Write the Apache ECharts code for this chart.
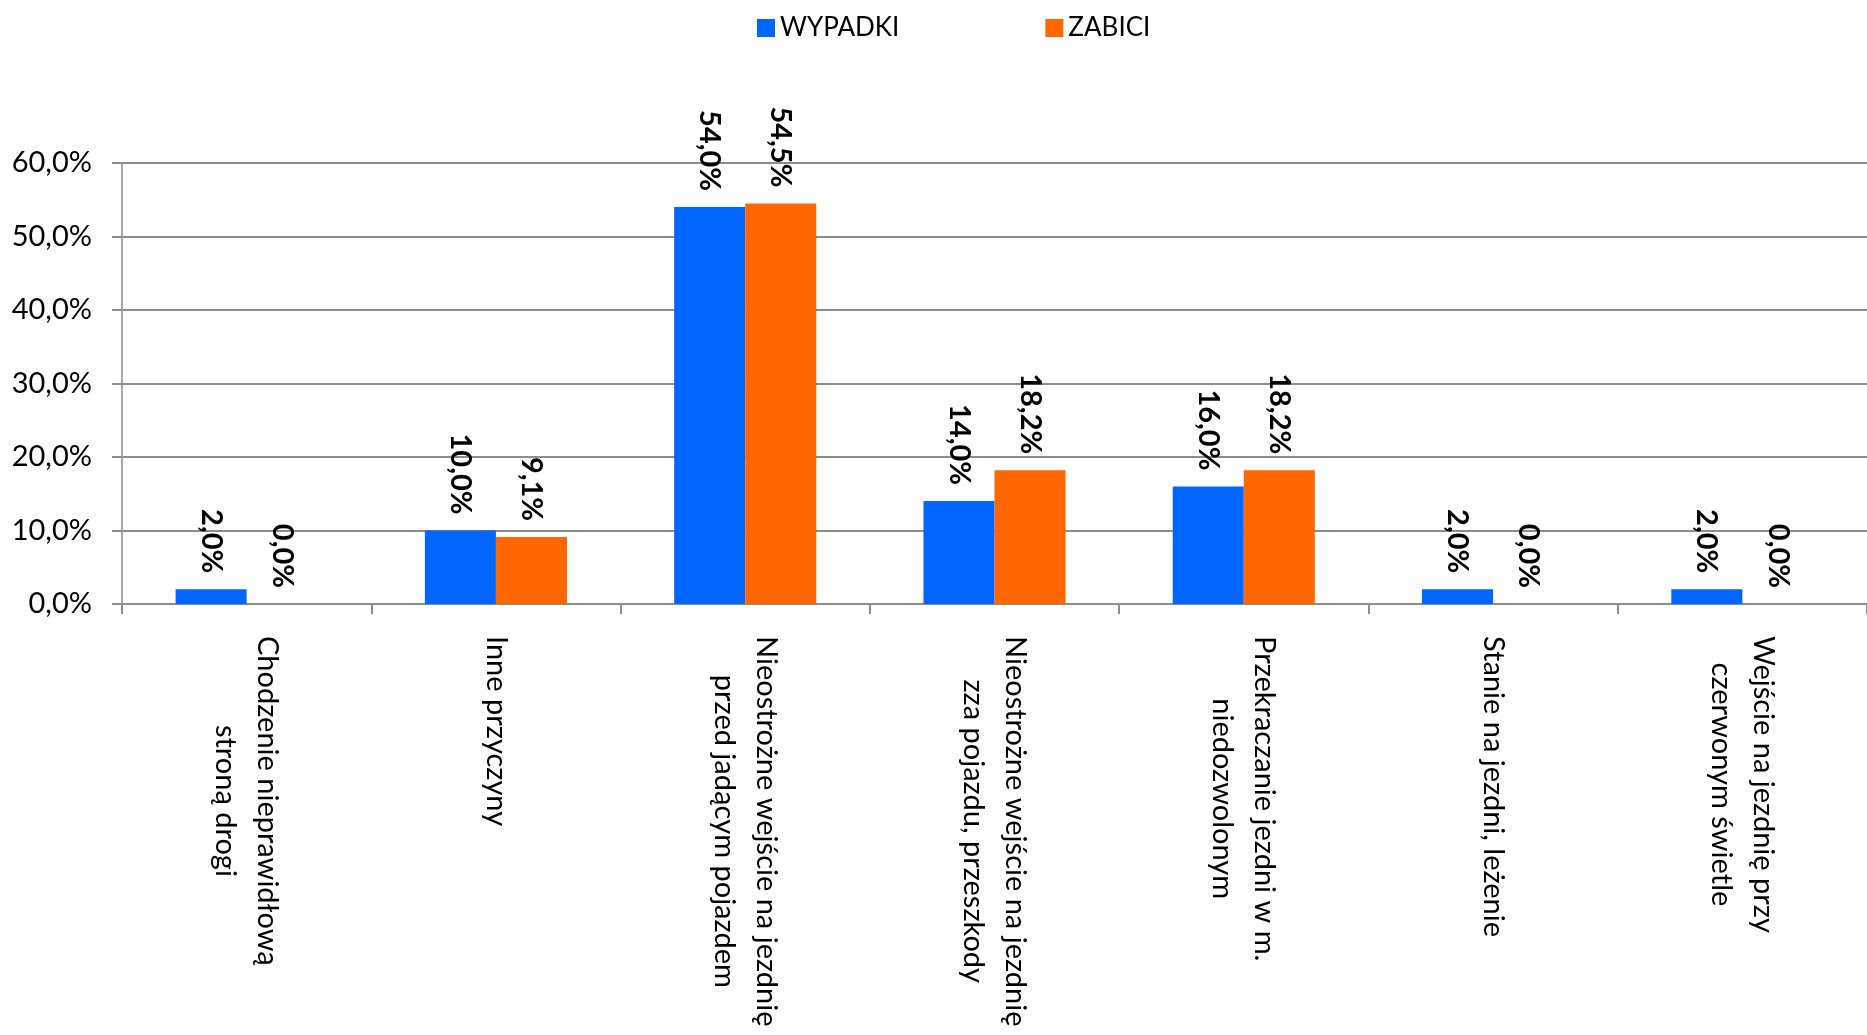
<!DOCTYPE html>
<html>
<head>
<meta charset="utf-8">
<script src="https://cdn.jsdelivr.net/npm/echarts@6/dist/echarts.min.js"></script>
<style>
  html, body { margin: 0; padding: 0; background: #fff; }
  #chart { width: 1867px; height: 1035px; }
</style>
</head>
<body>
<div id="chart"></div>
<script>
var categories = [
  "Chodzenie nieprawidłową\nstroną drogi",
  "Inne przyczyny",
  "Nieostrożne wejście na jezdnię\nprzed jadącym pojazdem",
  "Nieostrożne wejście na jezdnię\nzza pojazdu, przeszkody",
  "Przekraczanie jezdni w m.\nniedozwolonym",
  "Stanie na jezdni, leżenie",
  "Wejście na jezdnię przy\nczerwonym świetle"
];
var wypadki = [2.0, 10.0, 54.0, 14.0, 16.0, 2.0, 2.0];
var zabici = [0.0, 9.1, 54.5, 18.2, 18.2, 0.0, 0.0];

var FONT = "Lato";

function pct(v) {
  return Number(v).toFixed(1).replace(".", ",") + "%";
}

var dataLabel = {
  show: true,
  position: "top",
  distance: 16,
  rotate: -90,
  align: "right",
  verticalAlign: "middle",
  fontFamily: FONT,
  fontWeight: "bold",
  fontSize: 29,
  color: "#000",
  formatter: function (p) { return pct(p.value); }
};

var chart = echarts.init(document.getElementById("chart"));
chart.setOption({
  animation: false,
  legend: {
    left: 752,
    top: 10,
    itemWidth: 18,
    itemHeight: 18,
    itemGap: 146,
    icon: "rect",
    textStyle: { fontFamily: FONT, fontSize: 26, color: "#000" }
  },
  grid: { left: 122, right: 0, top: 163, bottom: 431 },
  xAxis: {
    type: "category",
    data: categories,
    axisLine: { lineStyle: { color: "#8c8c8c", width: 2 } },
    axisTick: { show: true, length: 10, lineStyle: { color: "#8c8c8c", width: 2 } },
    axisLabel: {
      interval: 0,
      rotate: -90,
      margin: 32,
      formatter: function (v) {
        return v.split("\n").map(function (s) { return "{c|" + s + "}"; }).join("\n");
      },
      rich: {
        c: { align: "center", fontFamily: FONT, fontSize: 29, lineHeight: 42, color: "#000" }
      }
    }
  },
  yAxis: {
    type: "value",
    min: 0,
    max: 60,
    interval: 10,
    axisLine: { show: true, lineStyle: { color: "#a6a6a6", width: 2 } },
    axisTick: { show: true, length: 10, lineStyle: { color: "#8c8c8c", width: 2 } },
    splitLine: { lineStyle: { color: "#8c8c8c", width: 2 } },
    axisLabel: {
      margin: 30,
      fontFamily: FONT,
      fontSize: 29,
      color: "#000",
      formatter: function (v) { return pct(v); }
    }
  },
  series: [
    {
      name: "WYPADKI",
      type: "bar",
      data: wypadki,
      barGap: "0%",
      barCategoryGap: "43%",
      itemStyle: { color: "#0066ff" },
      label: dataLabel
    },
    {
      name: "ZABICI",
      type: "bar",
      data: zabici,
      itemStyle: { color: "#ff6600" },
      label: dataLabel
    }
  ]
});
</script>
</body>
</html>
